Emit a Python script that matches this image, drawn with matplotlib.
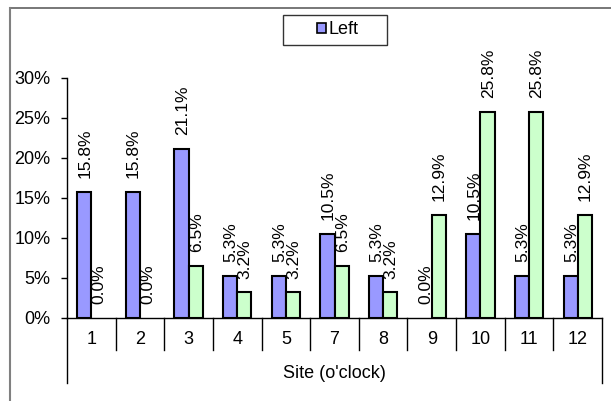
import matplotlib.pyplot as plt
from matplotlib.patches import Rectangle, Patch
from matplotlib.lines import Line2D
from matplotlib.transforms import blended_transform_factory

plt.rcParams['font.family'] = ['Liberation Sans', 'DejaVu Sans']

sites = ['1', '2', '3', '4', '5', '7', '8', '9', '10', '11', '12']
left = [15.8, 15.8, 21.1, 5.3, 5.3, 10.5, 5.3, 0.0, 10.5, 5.3, 5.3]
right = [0.0, 0.0, 6.5, 3.2, 3.2, 6.5, 3.2, 12.9, 25.8, 25.8, 12.9]
yticks = [0, 5, 10, 15, 20, 25, 30]

W, H = 611, 401
fig = plt.figure(figsize=(W / 100, H / 100), dpi=100)

# plot area in pixels: x 67..602, y 78..318
ax = fig.add_axes([67 / W, 1 - 318 / H, (602 - 67) / W, (318 - 78) / H])

x = list(range(len(sites)))
bw = 0.29
# empty bars get no outline
ax.bar([i - bw / 2 for i in x], left, bw, color='#9999FF', edgecolor='black',
       linewidth=[1.5 if v > 0 else 0 for v in left], zorder=3)
ax.bar([i + bw / 2 for i in x], right, bw, color='#CCFFCC', edgecolor='black',
       linewidth=[1.5 if v > 0 else 0 for v in right], zorder=3)

for i in x:
    ax.annotate(f'{left[i]:.1f}%', (i - bw / 2, left[i]), xytext=(0.5, 10), textcoords='offset points',
                rotation=90, ha='center', va='bottom', fontsize=12.5)
    ax.annotate(f'{right[i]:.1f}%', (i + bw / 2, right[i]), xytext=(0.5, 10), textcoords='offset points',
                rotation=90, ha='center', va='bottom', fontsize=12.5)

ax.set_xlim(-0.5, len(sites) - 0.5)
ax.set_ylim(0, 30)
ax.set_yticks(yticks)
ax.set_yticklabels([f'{v}%' for v in yticks], fontsize=13)
ax.tick_params(axis='y', direction='out', length=4, width=1, pad=8)
ax.set_xticks(x)
ax.set_xticklabels(sites, fontsize=13)
ax.tick_params(axis='x', length=0, pad=9)

for s in ['top', 'right']:
    ax.spines[s].set_visible(False)
ax.spines['left'].set_linewidth(1)
ax.spines['bottom'].set_linewidth(1)

# category separators and outer box of the category axis
tr = blended_transform_factory(ax.transData, ax.transAxes)
for k in range(1, len(sites)):
    ax.add_line(Line2D([k - 0.5, k - 0.5], [0, -32 / 240], transform=tr, color='black', lw=1, clip_on=False))
for xe in [-0.5, len(sites) - 0.5]:
    ax.add_line(Line2D([xe, xe], [0, -65 / 240], transform=tr, color='black', lw=1, clip_on=False))

ax.text(0.5, -(373 - 318) / 240, "Site (o'clock)", transform=ax.transAxes, ha='center', va='center', fontsize=13)

# outer chart frame
fig.add_artist(Line2D([10 / W, 1], [1 - 8 / H, 1 - 8 / H], color='#606060', lw=1.2))
fig.add_artist(Line2D([10 / W, 10 / W], [0, 1 - 8 / H], color='#808080', lw=1.5))

# legend box with a thin shadow
fig.add_artist(Rectangle((284 / W, 1 - 46 / H), 104 / W, 30 / H, transform=fig.transFigure,
                         facecolor='#404040', edgecolor='none'))
fig.add_artist(Rectangle((283 / W, 1 - 45 / H), 104 / W, 30 / H, transform=fig.transFigure,
                         facecolor='white', edgecolor='#333333', lw=1))
fig.legend(handles=[Patch(facecolor='#9999FF', edgecolor='black', linewidth=1.2, label='Left')],
           loc='center', bbox_to_anchor=(338 / W, 1 - 30 / H), frameon=False, fontsize=13,
           handlelength=0.5, handleheight=0.5, handletextpad=0.12, borderpad=0)

plt.savefig('out.png', dpi=100)
